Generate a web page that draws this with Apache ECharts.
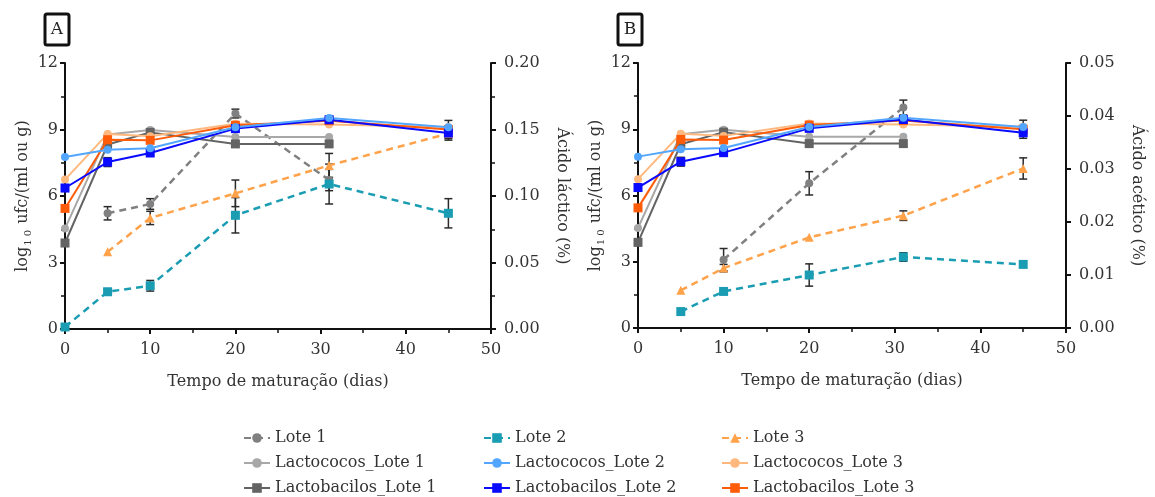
<!DOCTYPE html>
<html>
<head>
<meta charset="utf-8">
<script src="https://cdn.jsdelivr.net/npm/echarts@6/dist/echarts.min.js"></script>
<style>
html,body{margin:0;padding:0;background:#fff;}
#c{width:1155px;height:497px;}
</style>
</head>
<body>
<div id="c"></div>
<script>
// ---- Data ----
const days = [0, 5, 10, 20, 31, 45];

// Solid series: log10 ufc/(ml ou g) (left axis), same in panels A and B
const lactococosLote1   = [4.53, 8.77, 8.98, 8.66, 8.66, null];
const lactobacilosLote1 = [3.88, 8.32, 8.87, 8.35, 8.35, null];
const lactococosLote2   = [7.76, 8.09, 8.15, 9.10, 9.52, 9.10];
const lactobacilosLote2 = [6.36, 7.53, 7.94, 9.04, 9.44, 8.84];
const lactococosLote3   = [6.74, 8.80, 8.70, 9.26, 9.22, 9.11];
const lactobacilosLote3 = [5.44, 8.54, 8.51, 9.19, 9.40, 9.00];
const lactobacilosLote2Err = [0.15, 0.2, 0.1, 0, 0.15, 0.25];
const lactococosLote3Err   = [0, 0, 0, 0, 0, 0.3];
const lactobacilosLote1Err = [0.15, 0.1, 0, 0, 0, 0];

// Panel A: Ácido láctico (%) (right axis)
const lacticoLote1 = [null, 0.087, 0.094, 0.162, 0.112, null];
const lacticoLote2 = [0.0015, 0.028, 0.0325, 0.0855, 0.109, 0.087];
const lacticoLote3 = [null, 0.058, 0.0835, 0.102, 0.123, 0.147];
const lacticoLote1Err = [null, 0.005, 0.004, 0.0033, 0.008, null];
const lacticoLote2Err = [0, 0.002, 0.004, 0.0133, 0.015, 0.011];
const lacticoLote3Err = [null, 0, 0.005, 0.01, 0.009, 0.005];

// Panel B: Ácido acético (%) (right axis)
const aceticoLote1 = [null, null, 0.0129, 0.0273, 0.0416, null];
const aceticoLote2 = [null, 0.0031, 0.0069, 0.0100, 0.0134, 0.0120];
const aceticoLote3 = [null, 0.0071, 0.0113, 0.0171, 0.0212, 0.0301];
const aceticoLote1Err = [null, null, 0.0021, 0.0022, 0.0014, null];
const aceticoLote2Err = [null, 0, 0.0003, 0.0021, 0.0008, 0];
const aceticoLote3Err = [null, 0, 0.0007, 0, 0.0009, 0.002];

const leftTicks = [0, 3, 6, 9, 12];
const xTicks = [0, 10, 20, 30, 40, 50];
const names = ['Lote 1', 'Lote 2', 'Lote 3',
  'Lactococos_Lote 1', 'Lactococos_Lote 2', 'Lactococos_Lote 3',
  'Lactobacilos_Lote 1', 'Lactobacilos_Lote 2', 'Lactobacilos_Lote 3'];

// ---- Styles ----
const FONT = 'DejaVu Serif';
const FS = 16;
const TXT = '#333';
const colors = {
  'Lote 1': '#808080', 'Lote 2': '#1a9db3', 'Lote 3': '#ffa24a',
  'Lactococos_Lote 1': '#a8a8a8', 'Lactococos_Lote 2': '#52a6ff', 'Lactococos_Lote 3': '#ffb97e',
  'Lactobacilos_Lote 1': '#636363', 'Lactobacilos_Lote 2': '#0a0aff', 'Lactobacilos_Lote 3': '#ff5c0a'
};
const symbols = {
  'Lote 1': 'circle', 'Lote 2': 'rect', 'Lote 3': 'triangle',
  'Lactococos_Lote 1': 'circle', 'Lactococos_Lote 2': 'circle', 'Lactococos_Lote 3': 'circle',
  'Lactobacilos_Lote 1': 'rect', 'Lactobacilos_Lote 2': 'rect', 'Lactobacilos_Lote 3': 'rect'
};

function pairs(vals) {
  const out = [];
  vals.forEach((v, i) => { if (v !== null) out.push([days[i], v]); });
  return out;
}
function lineSeries(name, vals, xi, yi, dashed, z) {
  return {
    name: name, type: 'line', xAxisIndex: xi, yAxisIndex: yi,
    data: pairs(vals), symbol: symbols[name],
    symbolSize: symbols[name] === 'rect' ? 9 : (symbols[name] === 'triangle' ? 9 : 8),
    color: colors[name],
    lineStyle: { width: dashed ? 2.5 : 2, type: dashed ? [7, 5] : 'solid', color: colors[name] },
    itemStyle: { color: colors[name] },
    z: z, animation: false, emphasis: { disabled: true }
  };
}
function errSeries(vals, errs, xi, yi) {
  const data = [];
  vals.forEach((v, i) => {
    if (v !== null && errs[i]) data.push([days[i], v - errs[i], v + errs[i]]);
  });
  return {
    type: 'custom', name: 'err', xAxisIndex: xi, yAxisIndex: yi, z: 1, silent: true, animation: false,
    encode: { x: 0, y: [1, 2] },
    data: data,
    renderItem: function (params, api) {
      const lo = api.coord([api.value(0), api.value(1)]);
      const hi = api.coord([api.value(0), api.value(2)]);
      const w = 4;
      const st = { stroke: '#2a2a2a', lineWidth: 1.5 };
      return { type: 'group', children: [
        { type: 'line', shape: { x1: lo[0], y1: lo[1], x2: hi[0], y2: hi[1] }, style: st },
        { type: 'line', shape: { x1: lo[0] - w, y1: lo[1], x2: lo[0] + w, y2: lo[1] }, style: st },
        { type: 'line', shape: { x1: hi[0] - w, y1: hi[1], x2: hi[0] + w, y2: hi[1] }, style: st }
      ]};
    }
  };
}

const axisLine = { show: true, lineStyle: { color: '#111', width: 2 } };
const axisTick = { show: true, length: 5, lineStyle: { color: '#111', width: 2 } };
const minorTick = { show: true, splitNumber: 2, length: 4, lineStyle: { color: '#111', width: 1.5 } };
const labelStyle = { fontFamily: FONT, fontSize: FS, color: TXT };
const nameStyle = { fontFamily: FONT, fontSize: FS, color: TXT };

function xAxis(gi) {
  return {
    type: 'value', gridIndex: gi, min: 0, max: 50, interval: 10,
    axisLine: axisLine, axisTick: axisTick, minorTick: minorTick,
    splitLine: { show: false },
    axisLabel: Object.assign({ margin: 13, formatter: v => xTicks.indexOf(v) >= 0 ? String(v) : '' }, labelStyle),
    name: 'Tempo de maturação (dias)', nameLocation: 'middle', nameGap: 45, nameTextStyle: nameStyle
  };
}
function leftAxis(gi) {
  return {
    type: 'value', gridIndex: gi, position: 'left', min: 0, max: 12, interval: 3,
    axisLine: axisLine, axisTick: axisTick, minorTick: minorTick, splitLine: { show: false },
    axisLabel: Object.assign({ margin: 7, formatter: v => leftTicks.indexOf(v) >= 0 ? String(v) : '' }, labelStyle),
    name: '{a|log}{s|1 0}{a| ufc/(ml ou g)}', nameLocation: 'middle', nameGap: 24, nameRotate: 90,
    nameTextStyle: Object.assign({}, nameStyle, {
      rich: {
        a: { fontFamily: FONT, fontSize: FS, color: TXT, lineHeight: 22, verticalAlign: 'bottom' },
        s: { fontFamily: FONT, fontSize: 10, color: TXT, lineHeight: 22, verticalAlign: 'bottom', padding: [0, 1, -3, 1] }
      }
    })
  };
}
function rightAxis(gi, max, interval, name, minor) {
  return {
    type: 'value', gridIndex: gi, position: 'right', min: 0, max: max, interval: interval,
    axisLine: axisLine, axisTick: axisTick,
    minorTick: minor ? minorTick : { show: false }, splitLine: { show: false },
    axisLabel: Object.assign({ margin: 13, formatter: v => v.toFixed(2) }, labelStyle),
    name: name, nameLocation: 'middle', nameGap: 63, nameRotate: -90, nameTextStyle: nameStyle
  };
}

const series = [];
// Panel A (x 0, y 0 left, y 1 right); Panel B (x 1, y 2 left, y 3 right)
[[0, 0, 1, [lacticoLote1, lacticoLote2, lacticoLote3], [lacticoLote1Err, lacticoLote2Err, lacticoLote3Err]],
 [1, 2, 3, [aceticoLote1, aceticoLote2, aceticoLote3], [aceticoLote1Err, aceticoLote2Err, aceticoLote3Err]]]
.forEach(([xi, yl, yr, dashedVals, dashedErrs]) => {
  series.push(lineSeries('Lote 1', dashedVals[0], xi, yr, true, 2));
  series.push(lineSeries('Lote 2', dashedVals[1], xi, yr, true, 3));
  series.push(lineSeries('Lote 3', dashedVals[2], xi, yr, true, 2));
  series.push(lineSeries('Lactococos_Lote 1', lactococosLote1, xi, yl, false, 4));
  series.push(lineSeries('Lactobacilos_Lote 1', lactobacilosLote1, xi, yl, false, 4));
  series.push(lineSeries('Lactococos_Lote 3', lactococosLote3, xi, yl, false, 5));
  series.push(lineSeries('Lactobacilos_Lote 3', lactobacilosLote3, xi, yl, false, 5));
  series.push(lineSeries('Lactobacilos_Lote 2', lactobacilosLote2, xi, yl, false, 6));
  series.push(lineSeries('Lactococos_Lote 2', lactococosLote2, xi, yl, false, 6));
  series.push(errSeries(dashedVals[0], dashedErrs[0], xi, yr));
  series.push(errSeries(dashedVals[1], dashedErrs[1], xi, yr));
  series.push(errSeries(dashedVals[2], dashedErrs[2], xi, yr));
  series.push(errSeries(lactobacilosLote2, lactobacilosLote2Err, xi, yl));
  series.push(errSeries(lactococosLote3, lactococosLote3Err, xi, yl));
  series.push(errSeries(lactobacilosLote1, lactobacilosLote1Err, xi, yl));
});

function legend(left, data) {
  return {
    orient: 'vertical', left: left, top: 423, height: 100, itemWidth: 26, itemHeight: 12, itemGap: 5,
    data: data, selectedMode: false,
    textStyle: { fontFamily: FONT, fontSize: FS, color: TXT, lineHeight: 20 }
  };
}

const option = {
  backgroundColor: '#fff',
  animation: false,
  grid: [
    { left: 65, right: 1155 - 491, top: 63, bottom: 497 - 329 },
    { left: 638, right: 1155 - 1066, top: 63, bottom: 497 - 328 }
  ],
  xAxis: [xAxis(0), xAxis(1)],
  yAxis: [leftAxis(0), rightAxis(0, 0.2, 0.05, 'Ácido láctico (%)', true),
          leftAxis(1), rightAxis(1, 0.05, 0.01, 'Ácido acético (%)', false)],
  legend: [
    legend(238, [names[0], names[3], names[6]]),
    legend(478, [names[1], names[4], names[7]]),
    legend(716, [names[2], names[5], names[8]])
  ],
  graphic: [
    { type: 'rect', shape: { x: 45, y: 14, width: 24, height: 31, r: 2 }, style: { fill: '#fff', stroke: '#111', lineWidth: 3 } },
    { type: 'text', x: 57, y: 30, style: { text: 'A', font: '17px "DejaVu Serif"', fill: '#222', align: 'center', verticalAlign: 'middle' } },
    { type: 'rect', shape: { x: 618, y: 14, width: 24, height: 31, r: 2 }, style: { fill: '#fff', stroke: '#111', lineWidth: 3 } },
    { type: 'text', x: 630, y: 30, style: { text: 'B', font: '17px "DejaVu Serif"', fill: '#222', align: 'center', verticalAlign: 'middle' } }
  ],
  series: series
};

const chart = echarts.init(document.getElementById('c'), null, { renderer: 'canvas' });
chart.setOption(option);
</script>
</body>
</html>
